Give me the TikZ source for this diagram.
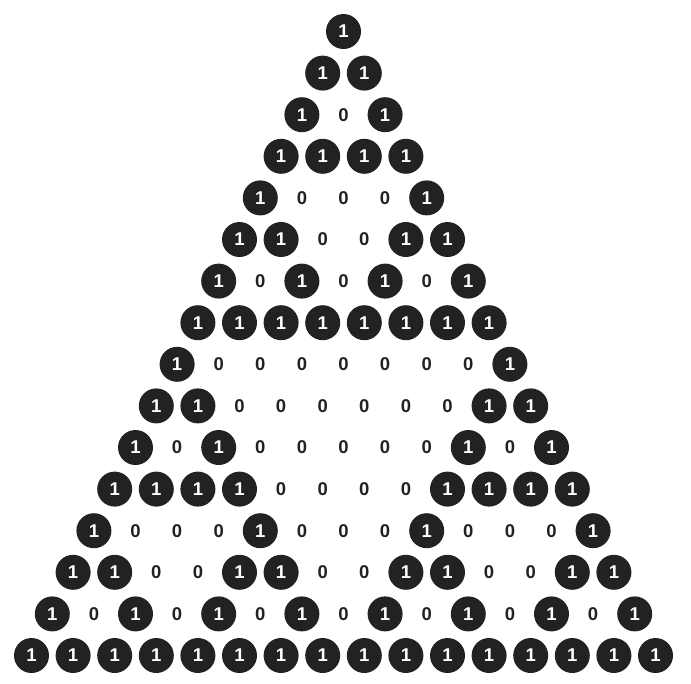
\documentclass[tikz,border=0pt]{standalone}
\usepackage{fontspec}
\setmainfont{Liberation Sans}
\usepackage{tikz}
\definecolor{cell}{HTML}{222222}

\begin{document}
\begin{tikzpicture}[x=1pt, y=1pt,
	one/.style = {circle, fill=cell, text=white, minimum size=35pt, inner sep=0pt, font=\bfseries\fontsize{18.5}{18.5}\selectfont},
	zero/.style = {text=cell, inner sep=0pt, font=\bfseries\fontsize{18.5}{18.5}\selectfont}]
	\useasboundingbox (0,0) rectangle (691,-683);
	\foreach \n in {0,...,15}{
		\foreach \k in {0,...,\n}{
			% parity of n choose k (Lucas)
			\pgfmathtruncatemacro\odd{(1-(1-mod(\n,2))*mod(\k,2))*(1-(1-mod(floor(\n/2),2))*mod(floor(\k/2),2))*(1-(1-mod(floor(\n/4),2))*mod(floor(\k/4),2))*(1-(1-mod(floor(\n/8),2))*mod(floor(\k/8),2))}
			\ifnum\odd=1
				\node[one] (r\n-\k) at ({343.5+(\k-\n/2)*41.6}, {-31.5-\n*41.6}) {1};
			\else
				\node[zero] (r\n-\k) at ({343.5+(\k-\n/2)*41.6}, {-31.5-\n*41.6}) {0};
			\fi
		}
	}
\end{tikzpicture}
\end{document}
